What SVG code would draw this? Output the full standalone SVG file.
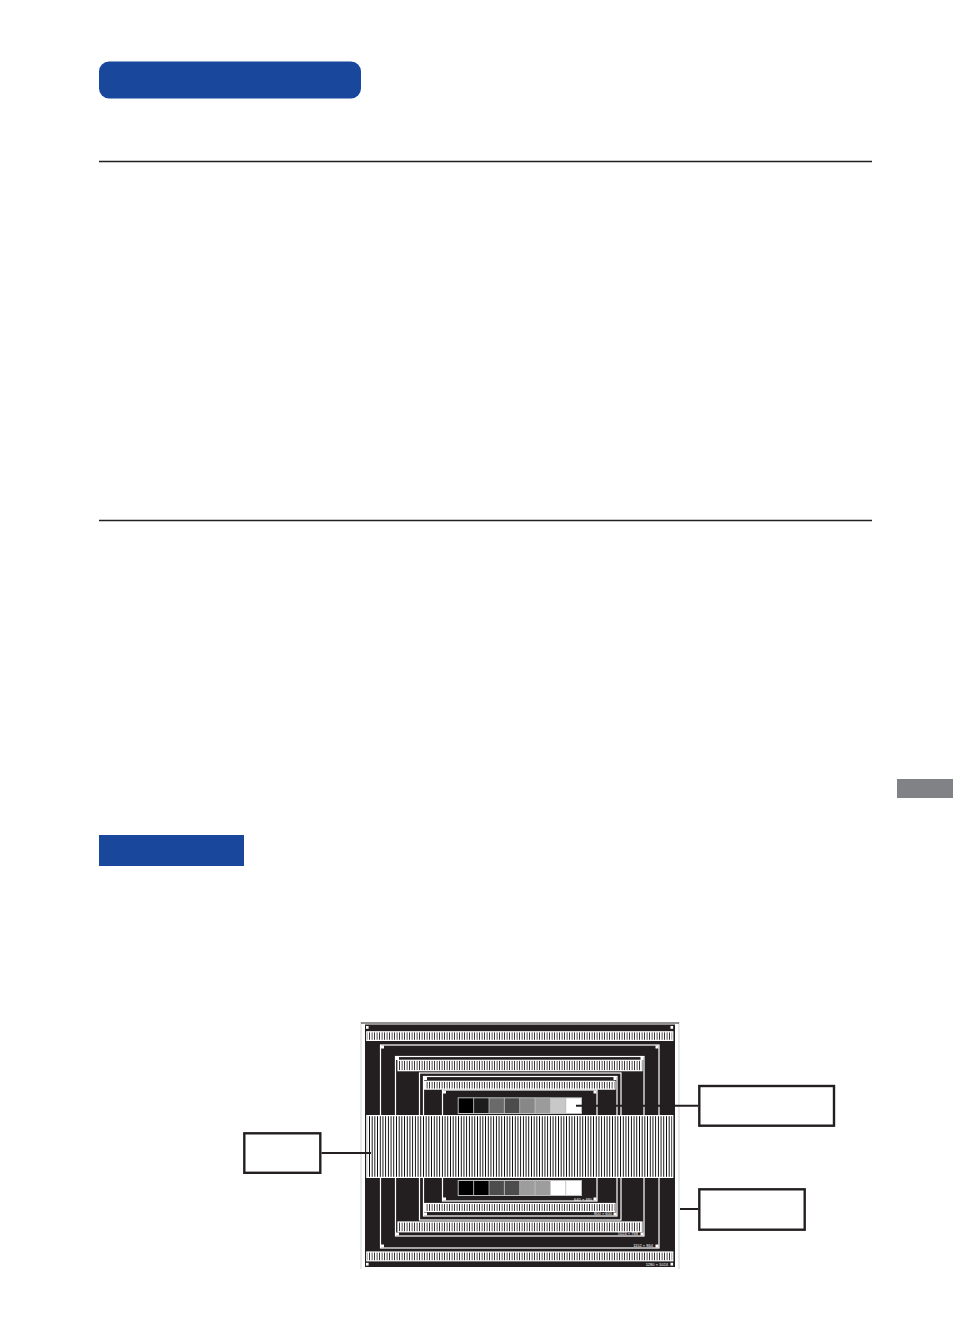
<svg xmlns="http://www.w3.org/2000/svg" width="953" height="1337" viewBox="0 0 953 1337">
<style>
.rule{stroke:#231f20;stroke-width:1.6;fill:none}
.fr{fill:none;stroke:#fff;stroke-width:1.2}
.sq{fill:#fff}
.strip{fill:url(#bars);stroke:#fff;stroke-width:1.2}
.lbl{fill:#fff;stroke:#231f20;stroke-width:2.4}
.con{stroke:#231f20;stroke-width:2;fill:none}
.tiny{font-family:"Liberation Sans",Arial,sans-serif;font-size:4px;fill:#fff;text-anchor:end}
</style>
<defs>
<pattern id="bars" width="2.5" height="50" patternUnits="userSpaceOnUse">
<rect width="2.5" height="50" fill="#231f20"/>
<rect x="0.3" width="1" height="50" fill="#fff" shape-rendering="crispEdges"/>
</pattern>
<pattern id="vbars" width="2.7" height="80" patternUnits="userSpaceOnUse">
<rect width="2.7" height="80" fill="#000"/>
<rect x="0.4" width="1.2" height="80" fill="#fff" shape-rendering="crispEdges"/>
</pattern>
</defs>
<rect width="953" height="1337" fill="#fff"/>

<g id="header-tab">
<rect x="99" y="61.5" width="262" height="37" rx="10" fill="#19479c"/>
</g>
<g id="rules">
<line class="rule" x1="99" y1="161.5" x2="872" y2="161.5"/>
<line class="rule" x1="99" y1="520.5" x2="872" y2="520.5"/>
</g>
<g id="side-tab">
<rect x="897" y="779" width="56" height="19" fill="#808285"/>
</g>
<g id="section-tab">
<rect x="99" y="835" width="145" height="31" fill="#19479c"/>
</g>

<g id="test-pattern">
<line x1="361" y1="1022" x2="361" y2="1269" stroke="#d1d3d4" stroke-width="1"/>
<line x1="679" y1="1022" x2="679" y2="1269" stroke="#d1d3d4" stroke-width="1"/>
<line x1="361" y1="1023" x2="679" y2="1023" stroke="#231f20" stroke-width="1"/>
<rect x="365" y="1024.5" width="310" height="242.5" fill="#231f20"/>
<rect class="sq" x="366" y="1026" width="2.6" height="2.8"/>
<rect class="sq" x="670.5" y="1026" width="2.6" height="2.8"/>
<rect class="sq" x="366" y="1262.8" width="2.6" height="2.8"/>
<rect class="sq" x="670.5" y="1262.8" width="2.6" height="2.8"/>
<rect class="fr" x="380.5" y="1045" width="278.5" height="203"/>
<rect class="fr" x="395.5" y="1056.5" width="248.5" height="179.5"/>
<rect class="fr" x="419.5" y="1073" width="201.5" height="147"/>
<rect class="fr" x="423.5" y="1076.5" width="193.5" height="139.5"/>
<rect class="fr" x="442.5" y="1090" width="154.5" height="111"/>
<rect class="sq" x="381" y="1045.5" width="3" height="3"/>
<rect class="sq" x="655.5" y="1045.5" width="3" height="3"/>
<rect class="sq" x="381" y="1244.5" width="3" height="3"/>
<rect class="sq" x="655.5" y="1244.5" width="3" height="3"/>
<rect class="sq" x="396" y="1057" width="3" height="3"/>
<rect class="sq" x="640.5" y="1057" width="3" height="3"/>
<rect class="sq" x="396" y="1232.5" width="3" height="3"/>
<rect class="sq" x="640.5" y="1232.5" width="3" height="3"/>
<rect class="sq" x="424" y="1077" width="3" height="3"/>
<rect class="sq" x="613.5" y="1077" width="3" height="3"/>
<rect class="sq" x="424" y="1212.5" width="3" height="3"/>
<rect class="sq" x="613.5" y="1212.5" width="3" height="3"/>
<rect class="sq" x="443" y="1090.5" width="3" height="3"/>
<rect class="sq" x="593.5" y="1090.5" width="3" height="3"/>
<rect class="sq" x="443" y="1197.5" width="3" height="3"/>
<rect class="sq" x="593.5" y="1197.5" width="3" height="3"/>
<rect class="strip" x="366.8" y="1031.8" width="306" height="8.6"/>
<rect class="strip" x="398" y="1060.3" width="244" height="10.4"/>
<rect class="strip" x="424.5" y="1081.3" width="190.5" height="7.8"/>
<rect class="strip" x="424.5" y="1203.5" width="190.5" height="8"/>
<rect class="strip" x="398" y="1222" width="244" height="9.8"/>
<rect class="strip" x="366.8" y="1252" width="306" height="8.8"/>
<rect x="366.8" y="1115.6" width="306" height="61.8" fill="url(#vbars)" stroke="#fff" stroke-width="1.2"/>
<rect x="457.7" y="1097.3" width="124.3" height="16.7" fill="#bcbec0"/>
<rect x="458.7" y="1098.3" width="14.5" height="14.7" fill="#000"/>
<rect x="474.1" y="1098.3" width="14.5" height="14.7" fill="#1c1c1c"/>
<rect x="489.4" y="1098.3" width="14.5" height="14.7" fill="#6a6a6a"/>
<rect x="504.8" y="1098.3" width="14.5" height="14.7" fill="#4c4c4c"/>
<rect x="520.1" y="1098.3" width="14.5" height="14.7" fill="#878787"/>
<rect x="535.5" y="1098.3" width="14.5" height="14.7" fill="#9b9b9b"/>
<rect x="550.8" y="1098.3" width="14.5" height="14.7" fill="#c8c8c8"/>
<rect x="566.2" y="1098.3" width="14.8" height="14.7" fill="#fff"/>
<rect x="457.7" y="1180" width="124.3" height="16" fill="#bcbec0"/>
<rect x="458.7" y="1181" width="14.5" height="14" fill="#000"/>
<rect x="474.1" y="1181" width="14.5" height="14" fill="#000"/>
<rect x="489.4" y="1181" width="14.5" height="14" fill="#4d4d4d"/>
<rect x="504.8" y="1181" width="14.5" height="14" fill="#4d4d4d"/>
<rect x="520.1" y="1181" width="14.5" height="14" fill="#9d9d9d"/>
<rect x="535.5" y="1181" width="14.5" height="14" fill="#9d9d9d"/>
<rect x="550.8" y="1181" width="14.5" height="14" fill="#fff"/>
<rect x="566.2" y="1181" width="14.8" height="14" fill="#fff"/>
<text class="tiny" x="668" y="1266">1280 × 1024</text>
<text class="tiny" x="653" y="1246.5">1152 × 864</text>
<text class="tiny" x="638" y="1234.5">1024 × 768</text>
<text class="tiny" x="612" y="1215">800 × 600</text>
<text class="tiny" x="592" y="1200.5">640 × 480</text>
</g>

<g id="label-left">
<rect class="lbl" x="244.3" y="1133.3" width="76" height="39.5"/>
</g>
<g id="label-right-top">
<rect class="lbl" x="699.3" y="1086" width="134.7" height="39.7"/>
</g>
<g id="label-right-bottom">
<rect class="lbl" x="699.3" y="1189.3" width="105.4" height="40.4"/>
</g>

<g id="connectors">
<line class="con" x1="321.5" y1="1153" x2="371" y2="1153"/>
<line class="con" x1="576" y1="1105.7" x2="698" y2="1105.7" stroke="#000"/>
<line class="con" x1="680" y1="1209" x2="698" y2="1209"/>
</g>
</svg>
